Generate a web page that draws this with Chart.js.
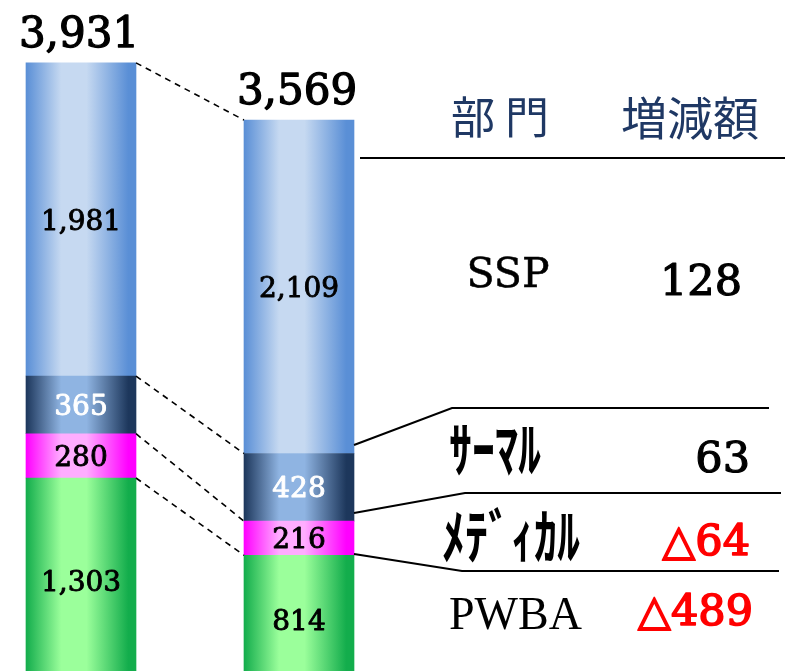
<!DOCTYPE html>
<html>
<head>
<meta charset="utf-8">
<script src="https://cdn.jsdelivr.net/npm/chart.js@4.4.1/dist/chart.umd.min.js"></script>
<style>
  html, body { margin: 0; padding: 0; overflow: hidden; background: #fff; }
  #wrap { position: relative; width: 785px; height: 700px; }
</style>
</head>
<body>
<div id="wrap"><canvas id="chart" width="785" height="700"></canvas></div>
<script>
// ─── Data ───────────────────────────────────────────────────────────────────
const periods = ['前期', '当期'];
const pwba = [1303, 814];
const medical = [280, 216];
const thermal = [365, 428];
const ssp = [1981, 2109];
const totals = [3931, 3569];

const divisions = ['SSP', 'ｻｰﾏﾙ', 'ﾒﾃﾞｨｶﾙ', 'PWBA'];
const changes = ['128', '63', '△64', '△489'];

const BAR_W = 110;
const SERIF = '"DejaVu Serif", "Liberation Serif", serif';
const TIMES = '"Liberation Serif", serif';
const GOTHIC = '"Noto Sans CJK JP", "Noto Sans", sans-serif';

// horizontal "cylinder" gradient, dark at the edges and light in the middle
function barGradient(dark, light) {
  return (ctx) => {
    const chart = ctx.chart;
    if (ctx.type !== 'data' || !chart.chartArea || !chart.scales.x) return dark;
    const x = chart.scales.x.getPixelForValue(ctx.dataIndex);
    const g = chart.ctx.createLinearGradient(x - BAR_W / 2, 0, x + BAR_W / 2, 0);
    g.addColorStop(0, dark);
    g.addColorStop(0.32, light);
    g.addColorStop(0.55, light);
    g.addColorStop(0.93, dark);
    g.addColorStop(1, dark);
    return g;
  };
}

const series = [
  { label: 'PWBA', data: pwba, dark: '#13ad4c', light: '#9bff9b', text: '#000' },
  { label: 'ﾒﾃﾞｨｶﾙ', data: medical, dark: '#ff00ff', light: '#ffadff', text: '#000' },
  { label: 'ｻｰﾏﾙ', data: thermal, dark: '#1d375c', light: '#8fb4e2', text: '#fff' },
  { label: 'SSP', data: ssp, dark: '#5a8fd6', light: '#c6d9f1', text: '#000' }
];

// ─── Overlay: labels, connectors, table ─────────────────────────────────────
// o.weight = extra stroke so the serif digits look as heavy as Century
function textAt(c, str, x, cy, o) {
  c.save();
  c.translate(x, cy);
  if (o.stretchY) c.scale(1, o.stretchY);
  c.font = (o.bold ? 'bold ' : '') + o.size + 'px ' + (o.family || SERIF);
  c.fillStyle = o.color || '#000';
  c.textAlign = o.align || 'center';
  c.textBaseline = 'alphabetic';
  c.fillText(str, 0, o.size * 0.36);
  if (o.weight) {
    c.strokeStyle = o.color || '#000';
    c.lineWidth = o.weight;
    c.lineJoin = 'round';
    c.strokeText(str, 0, o.size * 0.36);
  }
  c.restore();
}

const overlay = {
  id: 'overlay',
  afterDatasetsDraw(chart) {
    const c = chart.ctx;
    const xs = chart.scales.x, ys = chart.scales.y;
    const cx = periods.map((_, i) => xs.getPixelForValue(i));
    c.save();

    // values inside the segments, totals on top
    periods.forEach((_, i) => {
      let base = 0;
      series.forEach(s => {
        const v = s.data[i];
        const mid = ys.getPixelForValue(base + v / 2);
        textAt(c, v.toLocaleString('en-US'), cx[i], mid, { size: 28, color: s.text, weight: 0.9 });
        base += v;
      });
      textAt(c, totals[i].toLocaleString('en-US'), cx[i] - 2, ys.getPixelForValue(totals[i]) - 31, { size: 42, weight: 1.3 });
    });

    // dashed connectors between the two bars at every segment boundary
    c.strokeStyle = '#000';
    c.lineWidth = 1.6;
    c.setLineDash([6, 5]);
    let b0 = 0, b1 = 0;
    series.forEach(s => {
      b0 += s.data[0]; b1 += s.data[1];
      c.beginPath();
      c.moveTo(cx[0] + BAR_W / 2, ys.getPixelForValue(b0));
      c.lineTo(cx[1] - BAR_W / 2, ys.getPixelForValue(b1));
      c.stroke();
    });
    c.setLineDash([]);

    // table on the right
    const right = cx[1] + BAR_W / 2;
    c.lineWidth = 2;
    c.beginPath();
    c.moveTo(360, 158); c.lineTo(785, 158);
    c.moveTo(right, 445); c.lineTo(452, 408); c.lineTo(769, 408);
    c.moveTo(right, 513); c.lineTo(465, 493); c.lineTo(781, 493);
    c.moveTo(right, 554); c.lineTo(462, 571); c.lineTo(779, 571);
    c.stroke();

    const head = { size: 44, family: GOTHIC, color: '#1f3864' };
    textAt(c, '部 門', 500, 118, head);
    textAt(c, '増減額', 690, 118, { ...head, size: 46 });

    const kana = { size: 46, family: GOTHIC, bold: true, align: 'left', stretchY: 1.3 };
    const num = { size: 43, weight: 1.2 };
    const neg = { size: 43, weight: 1.6, color: '#ff0000', align: 'right' };

    textAt(c, divisions[0], 508, 272, { size: 41, weight: 0.5 });
    textAt(c, changes[0], 701, 280, num);

    textAt(c, divisions[1], 449, 450, kana);
    textAt(c, changes[1], 750, 457, { ...num, align: 'right' });

    textAt(c, divisions[2], 442, 537, kana);
    textAt(c, changes[2], 750, 540, neg);

    textAt(c, divisions[3], 449, 612, { size: 46, family: TIMES, align: 'left' });
    textAt(c, changes[3], 753, 610, neg);

    c.restore();
  }
};

new Chart(document.getElementById('chart'), {
  type: 'bar',
  data: {
    labels: periods,
    datasets: series.map(s => ({
      label: s.label,
      data: s.data,
      backgroundColor: barGradient(s.dark, s.light),
      borderWidth: 0,
      barThickness: BAR_W,
      clip: false
    }))
  },
  options: {
    responsive: false,
    animation: false,
    layout: { padding: { left: 81, right: 486, top: 20, bottom: 16 } },
    plugins: { legend: { display: false }, tooltip: { enabled: false } },
    scales: {
      x: { stacked: true, offset: false, display: false },
      y: { stacked: true, min: 0, max: 4200, display: false }
    }
  },
  plugins: [overlay]
});
</script>
</body>
</html>
